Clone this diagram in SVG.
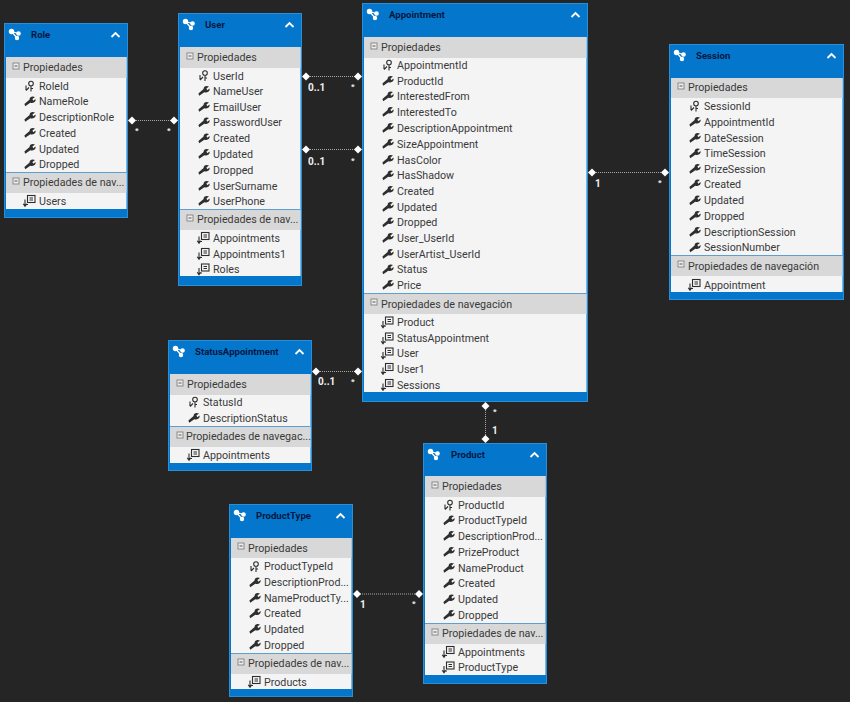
<svg xmlns="http://www.w3.org/2000/svg" xmlns:xlink="http://www.w3.org/1999/xlink" width="850" height="702" viewBox="0 0 850 702">
<style>
.box{fill:#0477cd;stroke:#2a8fd6;stroke-width:1}
.body{fill:#f4f4f5}
.sec{fill:#d8d8d8}
.sep{fill:#5f9fd0}
text{font-family:"Roboto","Noto Sans",sans-serif;font-size:10.7px;fill:#3a3a3a}
.t{font-weight:700;font-size:9.6px;fill:#04183f}
.m{font-weight:700;font-size:10px;fill:#f2f2f2}
.s{font-weight:700;font-size:8px;fill:#f2f2f2}
.c{stroke:#a8a8a8;stroke-width:1;stroke-dasharray:1 1;fill:none}
.d{fill:#fff}
.ic{fill:#2e2e2e}
.icl{fill:none;stroke:#2e2e2e;stroke-width:1.1}
.w{fill:none;stroke:#fff;stroke-width:1.8}
</style>
<defs>
<g id="head"><circle cx="-4.500" cy="-2.500" r="2.700" fill="#fff"/><circle cx="2.500" cy="-.5" r="2.300" fill="#fff"/><circle cx="1" cy="4" r="2.200" fill="#fff"/><path d="M-4.500-2.500L2.500-.5M-4.500-2.500L1 4" stroke="#fff" stroke-width="1.200"/></g>
<path id="chev" class="w" d="M-4 2L0-2L4 2"/>
<g id="minus"><rect x="-3" y="-3" width="6" height="6" fill="#eee" stroke="#8a8a8a"/><path d="M-1.500 0H1.500" stroke="#555"/></g>
<g id="key"><circle cx="2" cy="-2.500" r="2.300" class="icl" stroke-width="1.400"/><path class="icl" d="M2 0V5.500M2 2.500H4M-3-.5V4M-3 4.500L0 1.500"/></g>
<path id="wr" class="ic" d="M-4.800 4.800L-5.600 2.400L-.4-1.900C-.5-4.200 2-5.800 5-4.400L2.400-2.400L3.300-.7L5.600-2.400C6.200 .3 3.600 2.300 .3 1.200Z"/>
<g id="nav"><rect x="-1.500" y="-5.500" width="7.500" height="7" class="icl"/><path class="icl" d="M.5-3H4M.5-1H4M-4-1.500V4.500M-5.800 2.800L-4 5.300L-2.200 2.800M-4 3.500H-1"/></g>
</defs>
<rect width="850" height="702" fill="#252526"/>
<g id="connectors">
<path class="c" d="M132 120.500H174M306 76.500H358M306 149.500H358M592 172.500H665M316 371.500H358M485.500 406V439M358 594H419"/>
<g class="d">
<path d="M132 116.500l4 4-4 4-4-4Z"/>
<path d="M174 116.500l4 4-4 4-4-4Z"/>
<path d="M306 72.500l4 4-4 4-4-4Z"/><path d="M358 72.500l4 4-4 4-4-4Z"/>
<path d="M306 145.500l4 4-4 4-4-4Z"/><path d="M358 145.500l4 4-4 4-4-4Z"/>
<path d="M592 168.500l4 4-4 4-4-4Z"/><path d="M665 168.500l4 4-4 4-4-4Z"/>
<path d="M316 367.500l4 4-4 4-4-4Z"/><path d="M358 367.500l4 4-4 4-4-4Z"/>
<path d="M485.500 402l4 4-4 4-4-4Z"/><path d="M485.500 435l4 4-4 4-4-4Z"/>
<path d="M357 590l4 4-4 4-4-4Z"/><path d="M419 590l4 4-4 4-4-4Z"/>
</g>
<text class="s" x="135" y="133">*</text><text class="s" x="167" y="133">*</text>
<text class="m" x="308" y="91">0..1</text><text class="s" x="351" y="89">*</text>
<text class="m" x="308" y="165">0..1</text><text class="s" x="351" y="163">*</text>
<text class="m" x="595" y="187">1</text><text class="s" x="658" y="185">*</text>
<text class="m" x="318" y="385">0..1</text><text class="s" x="351" y="384">*</text>
<text class="s" x="493" y="414">*</text><text class="m" x="492" y="434">1</text>
<text class="m" x="360" y="608">1</text><text class="s" x="412" y="606">*</text>
</g>
<g id="Role">
<rect class="box" x="4.500" y="23.500" width="123" height="194"/>
<use href="#head" x="16" y="34"/><text class="t" x="31" y="38">Role</text><use href="#chev" x="115.500" y="35"/>
<rect class="body" x="6" y="57" width="120.500" height="152"/>
<rect class="sec" x="6" y="57" width="120.500" height="21"/><use href="#minus" x="16" y="66"/><text x="23" y="71">Propiedades</text>
<use href="#key" x="29" y="86"/><text x="39" y="90">RoleId</text>
<use href="#wr" x="30" y="101.500"/><text x="39" y="105">NameRole</text>
<use href="#wr" x="30" y="117"/><text x="39" y="121">DescriptionRole</text>
<use href="#wr" x="30" y="133"/><text x="39" y="136.500">Created</text>
<use href="#wr" x="30" y="149"/><text x="39" y="152.500">Updated</text>
<use href="#wr" x="30" y="164.500"/><text x="39" y="168">Dropped</text>
<rect class="sep" x="6" y="172" width="120.500" height="1"/>
<rect class="sec" x="6" y="173" width="120.500" height="20"/><use href="#minus" x="16" y="181"/><text x="23" y="186">Propiedades de nav...</text>
<use href="#nav" x="29" y="201"/><text x="39" y="204.500">Users</text>
</g>
<g id="User">
<rect class="box" x="178.500" y="13.500" width="123" height="272"/>
<use href="#head" x="190" y="24"/><text class="t" x="205" y="28">User</text><use href="#chev" x="289.500" y="25"/>
<rect class="body" x="180" y="47" width="120.500" height="229"/>
<rect class="sec" x="180" y="47" width="120.500" height="21"/><use href="#minus" x="190" y="56"/><text x="197" y="61">Propiedades</text>
<use href="#key" x="203" y="75.500"/><text x="213" y="79.500">UserId</text>
<use href="#wr" x="204" y="91"/><text x="213" y="94.500">NameUser</text>
<use href="#wr" x="204" y="107"/><text x="213" y="110.500">EmailUser</text>
<use href="#wr" x="204" y="122.500"/><text x="213" y="126">PasswordUser</text>
<use href="#wr" x="204" y="138.500"/><text x="213" y="142">Created</text>
<use href="#wr" x="204" y="154"/><text x="213" y="158">Updated</text>
<use href="#wr" x="204" y="170"/><text x="213" y="173.500">Dropped</text>
<use href="#wr" x="204" y="186"/><text x="213" y="189.500">UserSurname</text>
<use href="#wr" x="204" y="201"/><text x="213" y="205">UserPhone</text>
<rect class="sep" x="180" y="209" width="120.500" height="1"/>
<rect class="sec" x="180" y="210" width="120.500" height="20"/><use href="#minus" x="190" y="218"/><text x="197" y="223">Propiedades de nav...</text>
<use href="#nav" x="203" y="238"/><text x="213" y="241.500">Appointments</text>
<use href="#nav" x="203" y="254"/><text x="213" y="257.500">Appointments1</text>
<use href="#nav" x="203" y="269.500"/><text x="213" y="273">Roles</text>
</g>
<g id="Appointment">
<rect class="box" x="362.500" y="3.500" width="225" height="398"/>
<use href="#head" x="374" y="14"/><text class="t" x="389" y="18">Appointment</text><use href="#chev" x="575.500" y="15"/>
<rect class="body" x="364" y="37" width="222.500" height="355"/>
<rect class="sec" x="364" y="37" width="222.500" height="21"/><use href="#minus" x="374" y="46"/><text x="381" y="51">Propiedades</text>
<use href="#key" x="387" y="65"/><text x="397" y="68.500">AppointmentId</text>
<use href="#wr" x="388" y="81"/><text x="397" y="84.500">ProductId</text>
<use href="#wr" x="388" y="96.500"/><text x="397" y="100">InterestedFrom</text>
<use href="#wr" x="388" y="112"/><text x="397" y="116">InterestedTo</text>
<use href="#wr" x="388" y="128"/><text x="397" y="132">DescriptionAppointment</text>
<use href="#wr" x="388" y="144"/><text x="397" y="147.500">SizeAppointment</text>
<use href="#wr" x="388" y="160"/><text x="397" y="163.500">HasColor</text>
<use href="#wr" x="388" y="175.500"/><text x="397" y="179">HasShadow</text>
<use href="#wr" x="388" y="191"/><text x="397" y="195">Created</text>
<use href="#wr" x="388" y="207"/><text x="397" y="210.500">Updated</text>
<use href="#wr" x="388" y="222.500"/><text x="397" y="226">Dropped</text>
<use href="#wr" x="388" y="238"/><text x="397" y="242">User_UserId</text>
<use href="#wr" x="388" y="254"/><text x="397" y="257.500">UserArtist_UserId</text>
<use href="#wr" x="388" y="269.500"/><text x="397" y="273">Status</text>
<use href="#wr" x="388" y="285"/><text x="397" y="289">Price</text>
<rect class="sep" x="364" y="293" width="222.500" height="1"/>
<rect class="sec" x="364" y="294" width="222.500" height="20"/><use href="#minus" x="374" y="302"/><text x="381" y="307.500">Propiedades de navegación</text>
<use href="#nav" x="387" y="322.500"/><text x="397" y="326">Product</text>
<use href="#nav" x="387" y="338.500"/><text x="397" y="342">StatusAppointment</text>
<use href="#nav" x="387" y="353.500"/><text x="397" y="357">User</text>
<use href="#nav" x="387" y="369"/><text x="397" y="373">User1</text>
<use href="#nav" x="387" y="385"/><text x="397" y="389">Sessions</text>
</g>
<g id="Session">
<rect class="box" x="669.500" y="44.500" width="174" height="255"/>
<use href="#head" x="681" y="55"/><text class="t" x="696" y="59">Session</text><use href="#chev" x="831.500" y="56"/>
<rect class="body" x="671" y="78" width="171.500" height="214"/>
<rect class="sec" x="671" y="78" width="171.500" height="20"/><use href="#minus" x="681" y="86"/><text x="688" y="91">Propiedades</text>
<use href="#key" x="694" y="106"/><text x="704" y="110">SessionId</text>
<use href="#wr" x="695" y="122"/><text x="704" y="125.500">AppointmentId</text>
<use href="#wr" x="695" y="138"/><text x="704" y="141.500">DateSession</text>
<use href="#wr" x="695" y="153.500"/><text x="704" y="157">TimeSession</text>
<use href="#wr" x="695" y="169"/><text x="704" y="172.500">PrizeSession</text>
<use href="#wr" x="695" y="184.500"/><text x="704" y="188">Created</text>
<use href="#wr" x="695" y="200.500"/><text x="704" y="204">Updated</text>
<use href="#wr" x="695" y="216"/><text x="704" y="219.500">Dropped</text>
<use href="#wr" x="695" y="232"/><text x="704" y="235.500">DescriptionSession</text>
<use href="#wr" x="695" y="247.500"/><text x="704" y="251">SessionNumber</text>
<rect class="sep" x="671" y="255" width="171.500" height="1"/>
<rect class="sec" x="671" y="256" width="171.500" height="20"/><use href="#minus" x="681" y="264"/><text x="688" y="270">Propiedades de navegación</text>
<use href="#nav" x="694" y="285"/><text x="704" y="289">Appointment</text>
</g>
<g id="StatusAppointment">
<rect class="box" x="168.500" y="340.500" width="143" height="130"/>
<use href="#head" x="180" y="351"/><text class="t" x="195" y="355">StatusAppointment</text><use href="#chev" x="299.500" y="352"/>
<rect class="body" x="170" y="374" width="140.500" height="89"/>
<rect class="sec" x="170" y="374" width="140.500" height="21"/><use href="#minus" x="180" y="383"/><text x="187" y="388">Propiedades</text>
<use href="#key" x="193" y="402"/><text x="203" y="406">StatusId</text>
<use href="#wr" x="194" y="418"/><text x="203" y="422">DescriptionStatus</text>
<rect class="sep" x="170" y="426" width="140.500" height="1"/>
<rect class="sec" x="170" y="427" width="140.500" height="20"/><use href="#minus" x="180" y="435"/><text x="186" y="440">Propiedades de navegac...</text>
<use href="#nav" x="193" y="455"/><text x="203" y="459">Appointments</text>
</g>
<g id="Product">
<rect class="box" x="423.500" y="443.500" width="123" height="240"/>
<use href="#head" x="435" y="454"/><text class="t" x="451" y="458">Product</text><use href="#chev" x="534.500" y="455"/>
<rect class="body" x="425" y="476" width="120.500" height="199"/>
<rect class="sec" x="425" y="476" width="120.500" height="21"/><use href="#minus" x="435" y="485"/><text x="442" y="490">Propiedades</text>
<use href="#key" x="448" y="505"/><text x="458" y="509">ProductId</text>
<use href="#wr" x="449" y="520.500"/><text x="458" y="524">ProductTypeId</text>
<use href="#wr" x="449" y="536"/><text x="458" y="540">DescriptionProd...</text>
<use href="#wr" x="449" y="552"/><text x="458" y="555.500">PrizeProduct</text>
<use href="#wr" x="449" y="568"/><text x="458" y="571.500">NameProduct</text>
<use href="#wr" x="449" y="583.500"/><text x="458" y="587">Created</text>
<use href="#wr" x="449" y="599.500"/><text x="458" y="603">Updated</text>
<use href="#wr" x="449" y="615"/><text x="458" y="618.500">Dropped</text>
<rect class="sep" x="425" y="623" width="120.500" height="1"/>
<rect class="sec" x="425" y="624" width="120.500" height="20"/><use href="#minus" x="435" y="632"/><text x="442" y="637">Propiedades de nav...</text>
<use href="#nav" x="448" y="652"/><text x="458" y="655.500">Appointments</text>
<use href="#nav" x="448" y="667.500"/><text x="458" y="671">ProductType</text>
</g>
<g id="ProductType">
<rect class="box" x="229.500" y="504.500" width="123" height="192"/>
<use href="#head" x="241" y="515"/><text class="t" x="256" y="519">ProductType</text><use href="#chev" x="340.500" y="516"/>
<rect class="body" x="231" y="538" width="120.500" height="151"/>
<rect class="sec" x="231" y="538" width="120.500" height="20"/><use href="#minus" x="241" y="546"/><text x="248" y="551.500">Propiedades</text>
<use href="#key" x="254" y="566.500"/><text x="264" y="570">ProductTypeId</text>
<use href="#wr" x="255" y="582.500"/><text x="264" y="586">DescriptionProd...</text>
<use href="#wr" x="255" y="598"/><text x="264" y="601.500">NameProductTy...</text>
<use href="#wr" x="255" y="613.500"/><text x="264" y="617">Created</text>
<use href="#wr" x="255" y="629"/><text x="264" y="632.500">Updated</text>
<use href="#wr" x="255" y="645"/><text x="264" y="648.500">Dropped</text>
<rect class="sep" x="231" y="653" width="120.500" height="1"/>
<rect class="sec" x="231" y="654" width="120.500" height="20"/><use href="#minus" x="241" y="662"/><text x="248" y="667">Propiedades de nav...</text>
<use href="#nav" x="254" y="682"/><text x="264" y="685.500">Products</text>
</g>
</svg>
